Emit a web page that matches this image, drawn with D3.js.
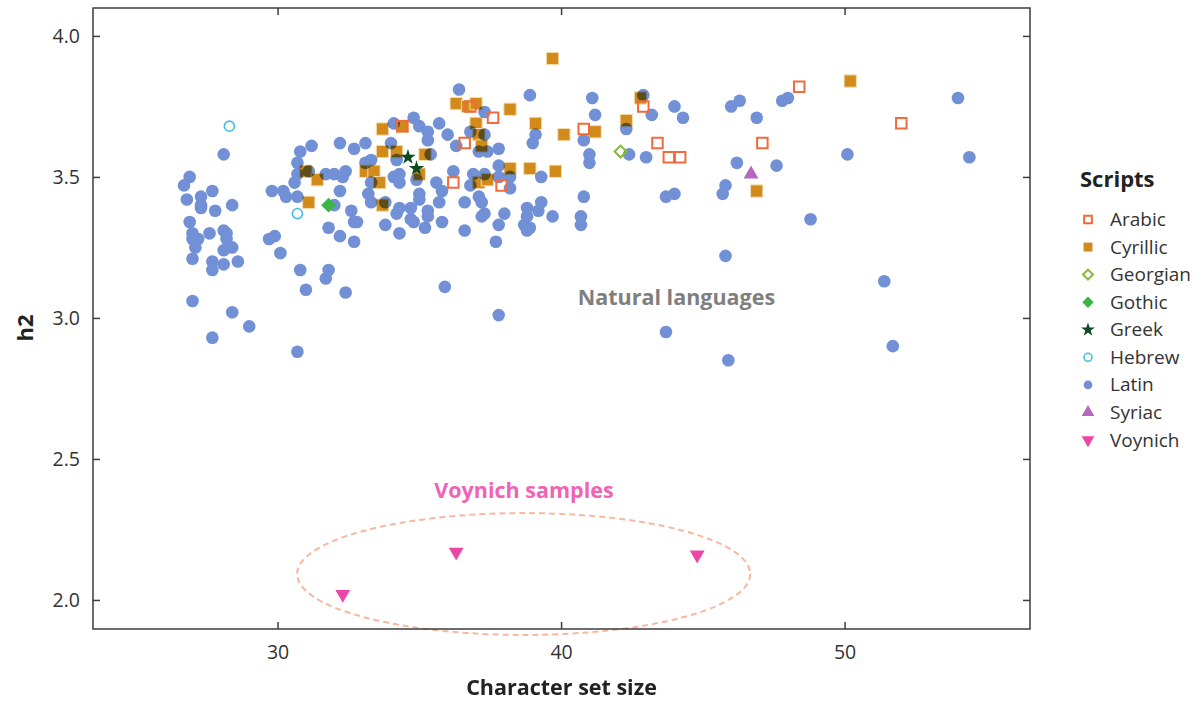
<!DOCTYPE html>
<html>
<head>
<meta charset="utf-8">
<script src="https://cdn.jsdelivr.net/npm/d3@7"></script>
<style>
  html, body { margin: 0; padding: 0; background: #ffffff; }
  svg { display: block; }
  text { font-family: "Open Sans", "Noto Sans", sans-serif; }
</style>
</head>
<body>
<svg id="chart" width="1196" height="701"></svg>
<script>
// ---------------- DATA ----------------
const xTicks = [30, 40, 50];
const yTicks = [2.0, 2.5, 3.0, 3.5, 4.0];
const xTitle = "Character set size";
const yTitle = "h2";
const legendTitle = "Scripts";
const scriptNames = ["Arabic", "Cyrillic", "Georgian", "Gothic", "Greek", "Hebrew", "Latin", "Syriac", "Voynich"];

const latin = [
  [28.1,3.58],[26.9,3.50],[26.7,3.47],[26.8,3.42],[27.3,3.43],[27.7,3.45],[27.3,3.40],[27.3,3.39],
  [27.8,3.38],[28.4,3.40],[26.9,3.34],[27.0,3.30],[27.0,3.28],[27.2,3.28],[27.1,3.25],[27.6,3.30],
  [28.1,3.31],[28.2,3.30],[28.2,3.28],[28.4,3.25],[28.1,3.24],[27.0,3.21],[27.7,3.20],[27.7,3.17],
  [28.1,3.19],[28.6,3.20],[27.0,3.06],[28.4,3.02],[29.0,2.97],[27.7,2.93],[29.8,3.45],[30.2,3.45],
  [30.3,3.43],[30.7,3.43],[30.6,3.48],[30.7,3.51],[30.7,3.55],[30.8,3.59],[31.2,3.61],[29.7,3.28],
  [29.9,3.29],[30.1,3.23],[30.8,3.17],[31.0,3.10],[30.7,2.88],
  [31.1,3.52],[31.7,3.51],[32.0,3.51],[32.4,3.52],[32.3,3.50],[32.2,3.45],[32.2,3.62],[32.7,3.60],
  [33.1,3.62],[34.0,3.62],[33.3,3.56],[33.1,3.55],[34.2,3.56],[34.8,3.71],[34.1,3.69],[35.0,3.68],
  [35.3,3.66],[35.7,3.69],[36.0,3.65],[35.3,3.63],[36.3,3.61],[35.4,3.58],[36.2,3.52],[35.6,3.48],
  [35.8,3.45],[33.3,3.48],[34.1,3.50],[34.3,3.51],[34.3,3.48],[34.9,3.49],[32.0,3.40],[33.2,3.44],
  [33.3,3.41],[33.8,3.41],[34.3,3.39],[34.2,3.37],[35.0,3.44],[35.0,3.42],[34.7,3.39],[35.3,3.38],
  [35.3,3.36],[35.7,3.41],[32.6,3.38],[32.7,3.34],[32.8,3.34],[31.8,3.32],[33.8,3.33],[34.7,3.35],
  [34.8,3.34],[35.2,3.32],[35.8,3.34],[34.3,3.30],[32.2,3.29],[32.7,3.27],[31.8,3.17],[31.7,3.14],
  [32.4,3.09],
  [36.4,3.81],[38.9,3.79],[41.1,3.78],[41.2,3.72],[37.3,3.73],[36.8,3.66],[37.3,3.65],[37.1,3.59],
  [37.4,3.59],[37.8,3.60],[39.1,3.65],[39.0,3.62],[40.8,3.63],[41.0,3.58],[41.0,3.55],[36.9,3.51],
  [37.3,3.51],[37.8,3.54],[38.2,3.50],[39.3,3.50],[36.8,3.47],[37.8,3.50],[38.2,3.46],[37.1,3.43],
  [37.2,3.41],[36.6,3.41],[37.3,3.37],[37.2,3.36],[38.0,3.37],[37.8,3.33],[38.8,3.39],[39.3,3.41],
  [39.2,3.38],[38.8,3.36],[39.7,3.36],[38.7,3.33],[38.9,3.32],[38.8,3.31],[36.6,3.31],[37.7,3.27],
  [40.8,3.43],[40.7,3.36],[40.7,3.33],[35.9,3.11],[37.8,3.01],
  [42.9,3.79],[43.2,3.72],[44.0,3.75],[44.3,3.71],[42.3,3.67],[42.4,3.58],[43.0,3.57],[43.7,3.43],
  [44.0,3.44],[46.0,3.75],[46.3,3.77],[46.9,3.71],[47.8,3.77],[48.0,3.78],[46.2,3.55],[47.6,3.54],
  [45.8,3.47],[45.7,3.44],[48.8,3.35],[45.8,3.22],[51.4,3.13],[51.7,2.90],[45.9,2.85],[54.0,3.78],
  [54.4,3.57],[50.1,3.58],[43.7,2.95]
];

const cyrillic = [
  [39.7,3.92],[36.3,3.76],[36.7,3.75],[37.0,3.76],[38.2,3.74],[37.0,3.69],[39.1,3.69],[37.1,3.65],
  [37.2,3.61],[40.1,3.65],[41.2,3.66],[42.3,3.70],[42.8,3.78],[50.2,3.84],[46.9,3.45],[34.4,3.68],
  [33.7,3.67],[33.7,3.59],[34.2,3.59],[33.1,3.52],[33.4,3.52],[35.2,3.58],[35.0,3.51],[31.0,3.52],
  [31.4,3.49],[31.1,3.41],[33.6,3.48],[33.7,3.40],[38.2,3.53],[38.9,3.53],[39.8,3.52],[37.1,3.48],
  [37.4,3.49]
];

const arabic = [
  [34.4,3.68],[36.8,3.75],[37.6,3.71],[36.6,3.62],[36.2,3.48],[37.9,3.47],[40.8,3.67],[42.9,3.75],
  [43.4,3.62],[43.8,3.57],[44.2,3.57],[47.1,3.62],[48.4,3.82],[52.0,3.69]
];

const georgian = [[42.1,3.59]];
const gothic   = [[31.8,3.40]];
const greek    = [[34.6,3.57],[34.9,3.53]];
const hebrew   = [[28.3,3.68],[30.7,3.37]];
const syriac   = [[46.7,3.51]];
const voynich  = [[32.3,2.02],[36.3,2.17],[44.8,2.16]];

// annotation ellipse around the Voynich samples (data units)
const voynichEllipse = { cx: 38.68, cy: 2.092, rx: 7.99, ry: 0.216 };
const annotations = [
  { text: "Natural languages", x: 44.07, y: 3.045, color: "#7f7f7f" },
  { text: "Voynich samples",   x: 38.69, y: 2.362, color: "#f063b4" }
];

// ---------------- LAYOUT ----------------
const svg = d3.select("#chart");
const plot = { left: 93, right: 1030, top: 8, bottom: 629 };

const x = d3.scaleLinear().domain([23.49, 56.54]).range([plot.left, plot.right]);
const y = d3.scaleLinear().domain([1.897, 4.099]).range([plot.bottom, plot.top]);

const frameColor = "#3d3d3d";
const tickLen = 7;

// Styles per script
const styles = {
  Arabic:   { type: d3.symbolSquare,   size: 110, fill: "none",    stroke: "#f26a3b", sw: 2,   rot: 0,   lsize: 60 },
  Cyrillic: { type: d3.symbolSquare,   size: 150, fill: "#d28a1b", stroke: "#f3dcae", sw: 1,   rot: 0,   lsize: 80, blend: true },
  Georgian: { type: d3.symbolSquare,   size: 70,  fill: "none",    stroke: "#86b63a", sw: 2,   rot: 45,  lsize: 50 },
  Gothic:   { type: d3.symbolSquare,   size: 110, fill: "#3cb44a", stroke: "none",    sw: 0,   rot: 45,  lsize: 65 },
  Greek:    { type: d3.symbolStar,     size: 75,  fill: "#0c4a24", stroke: "none",    sw: 0,   rot: 0,   lsize: 60 },
  Hebrew:   { type: d3.symbolCircle,   size: 80,  fill: "none",    stroke: "#41bde6", sw: 1.6, rot: 0,   lsize: 50 },
  Latin:    { type: d3.symbolCircle,   size: 125, fill: "#7190d6", stroke: "none",    sw: 0,   rot: 0,   lsize: 60 },
  Syriac:   { type: d3.symbolTriangle, size: 95,  fill: "#b767c0", stroke: "none",    sw: 0,   rot: 0,   lsize: 70 },
  Voynich:  { type: d3.symbolTriangle, size: 95,  fill: "#ec46a6", stroke: "none",    sw: 0,   rot: 180, lsize: 70 }
};

// ---------------- MARKS ----------------
function drawSeries(name, data) {
  const s = styles[name];
  const g = svg.append("g").attr("class", "series-" + name);
  if (s.blend) g.style("mix-blend-mode", "multiply");
  g.selectAll("path").data(data).enter().append("path")
    .attr("d", d3.symbol().type(s.type).size(s.size))
    .attr("transform", d => `translate(${x(d[0])},${y(d[1])}) rotate(${s.rot})`)
    .attr("fill", s.fill)
    .attr("stroke", s.stroke)
    .attr("stroke-width", s.sw);
}

drawSeries("Latin", latin);
drawSeries("Hebrew", hebrew);
drawSeries("Gothic", gothic);
drawSeries("Cyrillic", cyrillic);
drawSeries("Arabic", arabic);
drawSeries("Georgian", georgian);
drawSeries("Syriac", syriac);
drawSeries("Greek", greek);
drawSeries("Voynich", voynich);

// Ellipse annotation
svg.append("ellipse")
  .attr("cx", x(voynichEllipse.cx))
  .attr("cy", y(voynichEllipse.cy))
  .attr("rx", x(voynichEllipse.cx + voynichEllipse.rx) - x(voynichEllipse.cx))
  .attr("ry", y(voynichEllipse.cy) - y(voynichEllipse.cy + voynichEllipse.ry))
  .attr("fill", "none")
  .attr("stroke", "#f7b7a0")
  .attr("stroke-width", 2)
  .attr("stroke-dasharray", "6,4");

annotations.forEach(a => {
  svg.append("text")
    .attr("x", x(a.x)).attr("y", y(a.y))
    .attr("text-anchor", "middle")
    .attr("font-size", 21.5).attr("font-weight", 700)
    .attr("fill", a.color)
    .text(a.text);
});

// ---------------- AXES / FRAME ----------------
const axisG = svg.append("g");
axisG.append("g").attr("transform", `translate(0,${plot.bottom})`)
  .call(d3.axisBottom(x).tickValues(xTicks).tickSizeInner(-tickLen).tickSizeOuter(0).tickPadding(16).tickFormat(d3.format("d")));
axisG.append("g").attr("transform", `translate(0,${plot.top})`)
  .call(d3.axisTop(x).tickValues(xTicks).tickSizeInner(-tickLen).tickSizeOuter(0).tickFormat(""));
axisG.append("g").attr("transform", `translate(${plot.left},0)`)
  .call(d3.axisLeft(y).tickValues(yTicks).tickSizeInner(-tickLen).tickSizeOuter(0).tickPadding(13).tickFormat(d3.format(".1f")));
axisG.append("g").attr("transform", `translate(${plot.right},0)`)
  .call(d3.axisRight(y).tickValues(yTicks).tickSizeInner(-tickLen).tickSizeOuter(0).tickFormat(""));

axisG.selectAll(".domain").remove();
axisG.selectAll(".tick line").attr("stroke", frameColor).attr("stroke-width", 1.5);
axisG.selectAll(".tick text")
  .attr("fill", "#333")
  .attr("font-size", 19.5);

svg.append("rect")
  .attr("x", plot.left).attr("y", plot.top)
  .attr("width", plot.right - plot.left).attr("height", plot.bottom - plot.top)
  .attr("fill", "none").attr("stroke", frameColor).attr("stroke-width", 1.5);

// Axis titles
svg.append("text")
  .attr("x", (plot.left + plot.right) / 2).attr("y", 695)
  .attr("text-anchor", "middle")
  .attr("font-size", 21.5).attr("font-weight", 700).attr("fill", "#222")
  .text(xTitle);

svg.append("text")
  .attr("transform", "translate(33,328) rotate(-90)")
  .attr("text-anchor", "middle")
  .attr("font-size", 22).attr("font-weight", 700).attr("fill", "#222")
  .text(yTitle);

// ---------------- LEGEND ----------------
const legend = svg.append("g");
legend.append("text")
  .attr("x", 1080).attr("y", 187)
  .attr("font-size", 22).attr("font-weight", 700).attr("fill", "#222")
  .text(legendTitle);

const rowY = d3.scalePoint().domain(scriptNames).range([219.5, 440]);
scriptNames.forEach(name => {
  const s = styles[name];
  const cy = rowY(name);
  legend.append("path")
    .attr("d", d3.symbol().type(s.type).size(s.lsize))
    .attr("transform", `translate(1088,${cy}) rotate(${s.rot})`)
    .attr("fill", s.fill)
    .attr("stroke", name === "Cyrillic" ? "none" : s.stroke)
    .attr("stroke-width", s.sw);
  legend.append("text")
    .attr("x", 1110).attr("y", cy + 6.5)
    .attr("font-size", 19).attr("fill", "#333")
    .text(name);
});
</script>
</body>
</html>
